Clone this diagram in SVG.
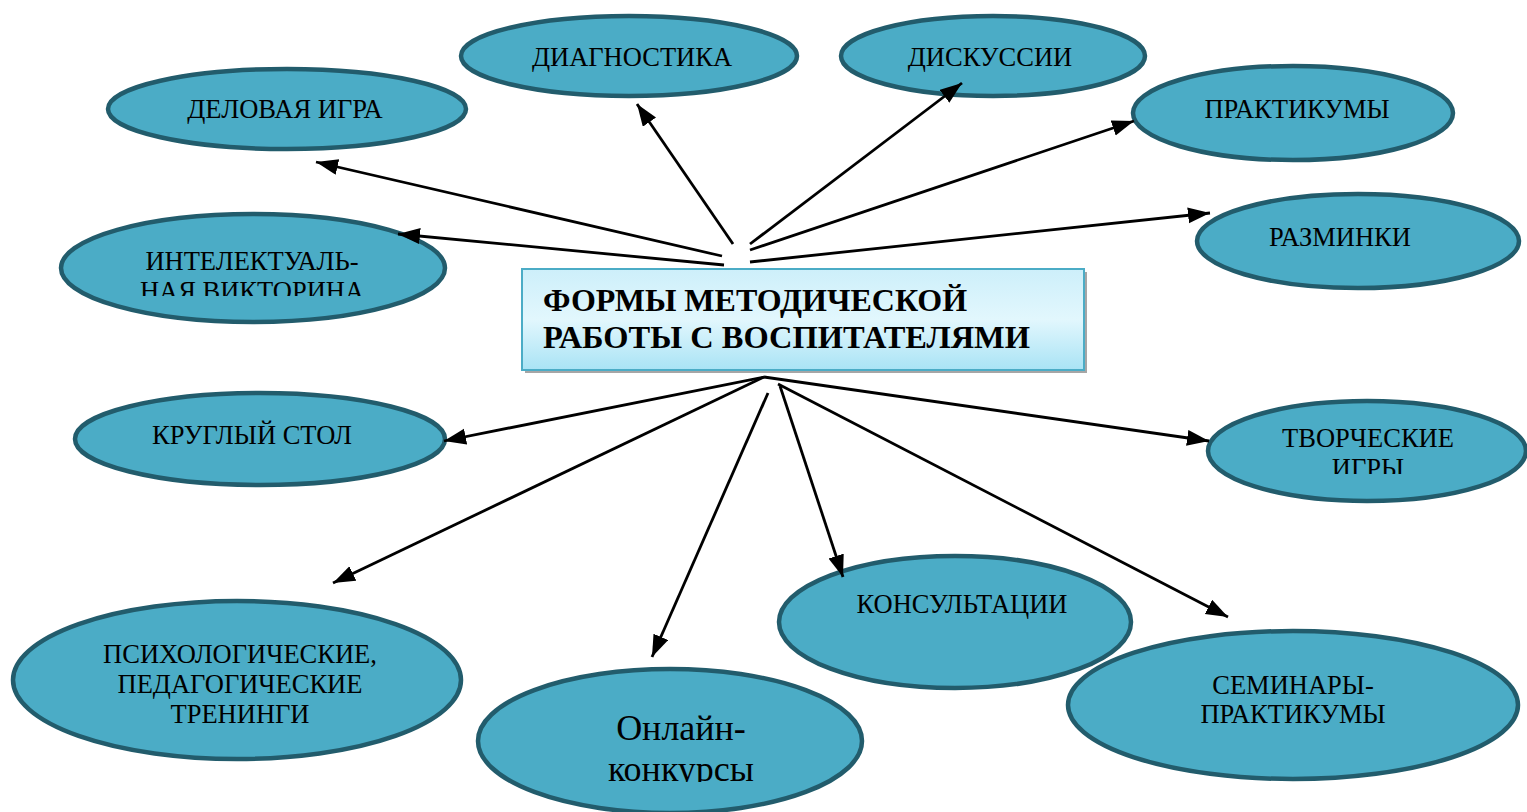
<svg xmlns="http://www.w3.org/2000/svg" width="1527" height="812" viewBox="0 0 1527 812">
<style>
.el{fill:#4BACC6;stroke:#225C6C;stroke-width:4.5}
.t{font-family:"Liberation Serif","Times New Roman",serif;font-size:26.5px;fill:#000;text-anchor:middle}
.big{font-size:36px}
.title{font-family:"Liberation Serif","Times New Roman",serif;font-size:32px;font-weight:bold;fill:#000}
.c{stroke:#000;stroke-width:2.8;fill:none;marker-end:url(#ah)}
</style>
<defs>
<marker id="ah" markerUnits="userSpaceOnUse" markerWidth="24" markerHeight="18" refX="22" refY="8" orient="auto">
<path d="M0,0 L22,8 L0,16 z" fill="#000"/>
</marker>
<linearGradient id="bg" x1="0" y1="0" x2="0" y2="1">
<stop offset="0" stop-color="#CDEFFA"/>
<stop offset="0.5" stop-color="#E2F7FD"/>
<stop offset="1" stop-color="#A9E3F5"/>
</linearGradient>
<clipPath id="cp1"><rect x="0" y="0" width="1527" height="296"/></clipPath>
<clipPath id="cp2"><rect x="0" y="0" width="1527" height="474"/></clipPath>
<clipPath id="cp3"><rect x="0" y="0" width="1527" height="782"/></clipPath>
</defs>
<rect width="1527" height="812" fill="#fff"/>
<g id="center">
<rect x="525" y="272" width="562" height="101" fill="#A6A6A6"/>
<rect x="522" y="269" width="562" height="101" fill="url(#bg)" stroke="#4BACC6" stroke-width="2"/>
<text class="title" x="543" y="311">ФОРМЫ МЕТОДИЧЕСКОЙ</text>
<text class="title" x="543" y="348" textLength="487" lengthAdjust="spacingAndGlyphs">РАБОТЫ С ВОСПИТАТЕЛЯМИ</text>
</g>
<g id="n-delovaya">
<ellipse class="el" cx="287" cy="109" rx="179" ry="40"/>
<text class="t" x="285" y="118">ДЕЛОВАЯ ИГРА</text>
</g>
<g id="n-diagnostika">
<ellipse class="el" cx="629" cy="56" rx="168" ry="40"/>
<text class="t" x="632" y="66">ДИАГНОСТИКА</text>
</g>
<g id="n-diskussii">
<ellipse class="el" cx="993" cy="56" rx="152" ry="40"/>
<text class="t" x="990" y="66">ДИСКУССИИ</text>
</g>
<g id="n-praktikumy">
<ellipse class="el" cx="1293" cy="113" rx="160" ry="47"/>
<text class="t" x="1297" y="118">ПРАКТИКУМЫ</text>
</g>
<g id="n-razminki">
<ellipse class="el" cx="1358" cy="241" rx="161" ry="47"/>
<text class="t" x="1340" y="246">РАЗМИНКИ</text>
</g>
<g id="n-viktorina">
<ellipse class="el" cx="253" cy="268" rx="192" ry="54"/>
<g clip-path="url(#cp1)">
<text class="t" x="252" y="270">ИНТЕЛЕКТУАЛЬ-</text>
<text class="t" x="252" y="300">НАЯ ВИКТОРИНА</text>
</g>
</g>
<g id="n-kruglyi">
<ellipse class="el" cx="260" cy="439" rx="185" ry="46"/>
<text class="t" x="252" y="444">КРУГЛЫЙ СТОЛ</text>
</g>
<g id="n-tvorcheskie">
<ellipse class="el" cx="1367" cy="451" rx="159" ry="50"/>
<g clip-path="url(#cp2)">
<text class="t" x="1368" y="447">ТВОРЧЕСКИЕ</text>
<text class="t" x="1368" y="477">ИГРЫ</text>
</g>
</g>
<g id="n-treningi">
<ellipse class="el" cx="237" cy="680" rx="224" ry="79"/>
<text class="t" x="240" y="663">ПСИХОЛОГИЧЕСКИЕ,</text>
<text class="t" x="240" y="693">ПЕДАГОГИЧЕСКИЕ</text>
<text class="t" x="240" y="723">ТРЕНИНГИ</text>
</g>
<g id="n-konkursy">
<ellipse class="el" cx="670" cy="741" rx="192" ry="72"/>
<g clip-path="url(#cp3)">
<text class="t big" x="681" y="740">Онлайн-</text>
<text class="t big" x="681" y="781">конкурсы</text>
</g>
</g>
<g id="n-konsultacii">
<ellipse class="el" cx="955" cy="622" rx="176" ry="66"/>
<text class="t" x="962" y="613">КОНСУЛЬТАЦИИ</text>
</g>
<g id="n-seminary">
<ellipse class="el" cx="1293" cy="705" rx="225" ry="74"/>
<text class="t" x="1293" y="694">СЕМИНАРЫ-</text>
<text class="t" x="1293" y="723">ПРАКТИКУМЫ</text>
</g>
<g id="connectors">
<line class="c" x1="722" y1="256" x2="316" y2="162"/>
<line class="c" x1="733" y1="244" x2="637" y2="104"/>
<line class="c" x1="750" y1="244" x2="962" y2="83"/>
<line class="c" x1="750" y1="250" x2="1134" y2="121"/>
<line class="c" x1="750" y1="262" x2="1210" y2="213"/>
<line class="c" x1="724" y1="265" x2="398" y2="234"/>
<line class="c" x1="764" y1="377" x2="444" y2="441"/>
<line class="c" x1="764" y1="377" x2="333" y2="583"/>
<line class="c" x1="768" y1="393" x2="652" y2="657"/>
<line class="c" x1="780" y1="386" x2="843" y2="577"/>
<line class="c" x1="778" y1="384" x2="1228" y2="617"/>
<line class="c" x1="764" y1="377" x2="1209" y2="441"/>
</g>
</svg>
